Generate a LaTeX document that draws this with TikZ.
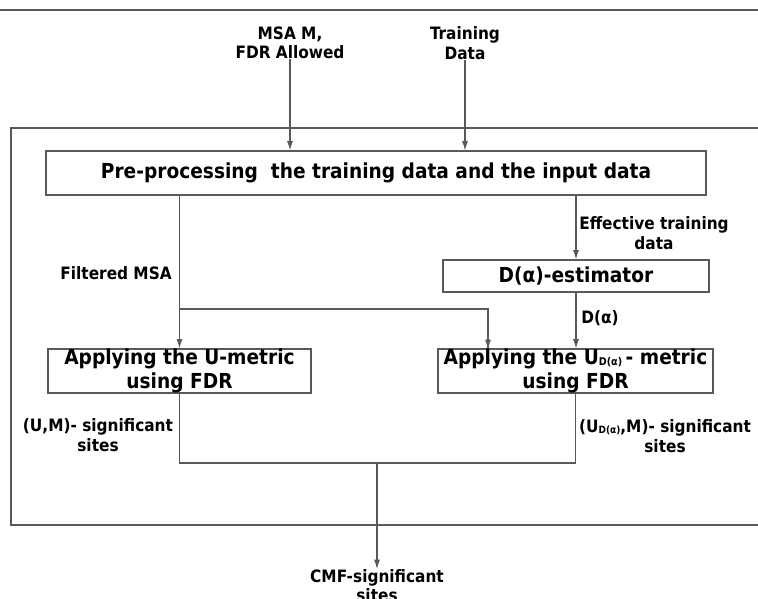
\documentclass[tikz,border=0pt]{standalone}
\usepackage{fontspec}
\setmainfont{DejaVu Sans Condensed}[BoldFont=* Bold]
\usetikzlibrary{arrows.meta,calc}
\begin{document}
\begin{tikzpicture}[x=0.75pt,y=-0.75pt,
  ln/.style={draw=black!65,line width=0.8pt},
  arr/.style={ln,-{Latex[length=7pt,width=4.5pt]}},
  frm/.style={draw=black!65,line width=1.4pt},
  box/.style={ln,rectangle,inner sep=0pt,align=center,font=\fontsize{15.5}{17.5}\selectfont\bfseries},
  lbl/.style={inner sep=0pt,align=center,font=\fontsize{12.8}{14.5}\selectfont\bfseries}]
\useasboundingbox (0,0) rectangle (758,599);
\draw[frm] (0,10) -- (758,10);
\draw[frm] (758,128) -- (11,128) -- (11,525) -- (758,525);
\node[box,minimum width={660*0.75pt},minimum height={44*0.75pt}] (pre) at (376,173) {Pre-processing\ \ the training data and the input data};
\node[box,minimum width={266*0.75pt},minimum height={32*0.75pt}] (est) at (576,276) {D(α)-estimator};
\node[box,minimum width={263*0.75pt},minimum height={44*0.75pt}] (lbox) at (179.5,371) {Applying the U-metric\\using FDR};
\node[box,minimum width={275*0.75pt},minimum height={44*0.75pt}] (rbox) at (575.5,371) {Applying the U\raisebox{-0.5pt}{\fontsize{8}{8}\selectfont D(α)}\,- metric\\using FDR};
\node[lbl] (msa) at (290,43) {MSA M,\\FDR Allowed};
\node[lbl] (train) at (465,43) {Training\\Data};
\node[lbl] (eff) at (654,233) {Effective training\\data};
\node[lbl,anchor=east] (filt) at (172,273) {Filtered MSA};
\node[lbl,anchor=west] (dal) at (581,318) {D(α)};
\node[lbl] (um) at (98,435) {(U,M)- significant\\sites};
\node[lbl] (udm) at (665,436) {(U\raisebox{-0.5pt}{\fontsize{7.5}{7.5}\selectfont D(α)},M)- significant\\sites};
\node[lbl,anchor=north] (out) at (377,569) {CMF-significant\\sites};
\coordinate (br) at (180,309);
\coordinate (rin) at (488,349);
\coordinate (m) at (377,463);
\draw[arr] (msa.south) -- (msa.south |- pre.north);
\draw[arr] (train.south) -- (train.south |- pre.north);
\draw[arr] (lbox.north |- pre.south) -- (lbox.north);
\draw[ln] (br) -| ($(rin)+(0,-1)$);
\draw[arr] (br -| rin) -- (rin);
\draw[arr] (est.north |- pre.south) -- (est.north);
\draw[arr] (est.south) -- (est.south |- rbox.north);
\draw[ln] (lbox.south) |- (m) -| (rbox.south);
\draw[arr] (m) -- (out.north);
\end{tikzpicture}
\end{document}
